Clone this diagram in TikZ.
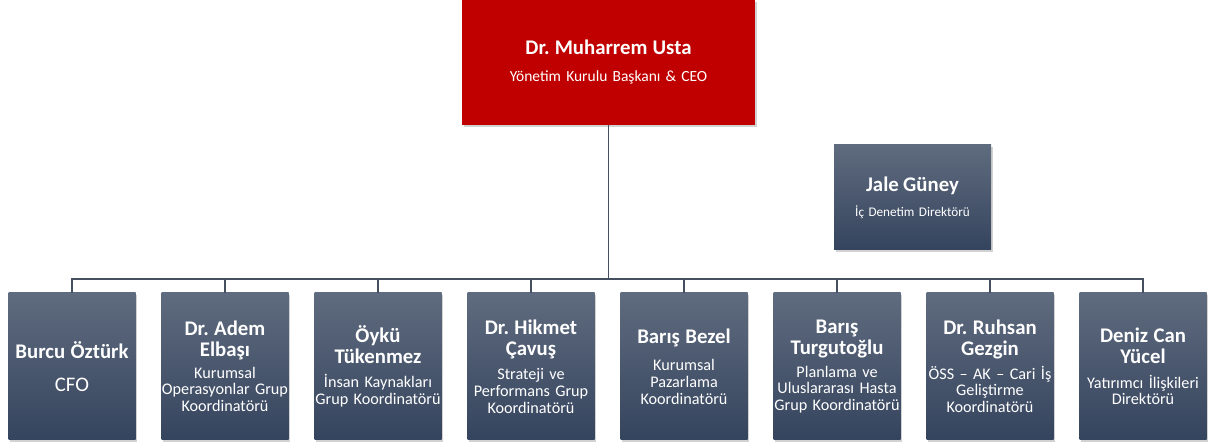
\documentclass[tikz,border=0pt]{standalone}
\usepackage{fontspec}
\setmainfont{Carlito}
\usetikzlibrary{shadows}
\definecolor{Crimson}{HTML}{C00000}
\definecolor{SlateTop}{HTML}{5F6B7E}
\definecolor{SlateBot}{HTML}{35445E}
\definecolor{Wire}{HTML}{44505F}
\frenchspacing
\newcommand{\namefont}{\fontsize{20.8}{21}\selectfont\bfseries}
\newcommand{\who}[3][7pt]{{\namefont #2\par}\vspace{#1}{#3\par}}

\begin{document}
\begin{tikzpicture}[x=1pt, y=1pt,
    shd/.style={drop shadow={shadow xshift=1.5pt, shadow yshift=-2pt, opacity=.35}},
    boss/.style={shd, fill=Crimson, text=white, minimum height=125pt, text width=293pt,
                 align=center, inner sep=0pt, font=\fontsize{15.5}{17}\selectfont},
    unit/.style={shd, top color=SlateTop, bottom color=SlateBot, text=white,
                 minimum height=147pt, text width=127pt, align=center, inner sep=0pt,
                 font=\fontsize{16.2}{16.7}\selectfont},
    audit/.style={unit, minimum height=105pt, text width=157pt, font=\fontsize{13.2}{16}\selectfont},
    wire/.style={draw=Wire, line width=1.2pt}]
    \useasboundingbox[fill=white] (0,0) rectangle (1210,446);
    \node[boss]  (chair) at (608.5,383.5) {\who[10pt]{Dr. Muharrem Usta}{Yönetim Kurulu Başkanı \& CEO}};
    \node[audit] (aud)   at (912.5,248.5) {\who[9pt]{Jale Güney}{İç Denetim Direktörü}};
    % second row
    \node[unit] (cfo)   at (72,79.5)   {\who[11pt]{Burcu Öztürk}{\fontsize{20.7}{22}\selectfont CFO}};
    \node[unit] (ops)   at (225,79.5)  {\who[4.5pt]{Dr. Adem\\Elbaşı}{Kurumsal\\Operasyonlar Grup\\Koordinatörü}};
    \node[unit] (hr)    at (378,79.5)  {\who[7pt]{Öykü\\Tükenmez}{İnsan Kaynakları\\Grup Koordinatörü}};
    \node[unit] (strat) at (531,79.5)  {\who[7.5pt]{Dr. Hikmet\\Çavuş}{Strateji ve\\Performans Grup\\Koordinatörü}};
    \node[unit] (mkt)   at (684,79.5)  {\who[11pt]{Barış Bezel}{Kurumsal\\Pazarlama\\Koordinatörü}};
    \node[unit] (intl)  at (837,79.5)  {\who[6pt]{Barış\\Turgutoğlu}{Planlama ve\\Uluslararası Hasta\\Grup Koordinatörü}};
    \node[unit] (biz)   at (990,79.5)  {\who[5.5pt]{Dr. Ruhsan\\Gezgin}{ÖSS – AK – Cari İş\\Geliştirme\\Koordinatörü}};
    \node[unit] (inv)   at (1143,79.5) {\who[8pt]{Deniz Can\\Yücel}{Yatırımcı İlişkileri\\Direktörü}};
    \coordinate (bus) at (608.5,167);
    \draw[wire] (chair) -- (bus);
    \draw[wire] (bus) -| (cfo); \draw[wire] (bus) -| (ops); \draw[wire] (bus) -| (hr);
    \draw[wire] (bus) -| (strat); \draw[wire] (bus) -| (mkt); \draw[wire] (bus) -| (intl);
    \draw[wire] (bus) -| (biz); \draw[wire] (bus) -| (inv);
\end{tikzpicture}
\end{document}
